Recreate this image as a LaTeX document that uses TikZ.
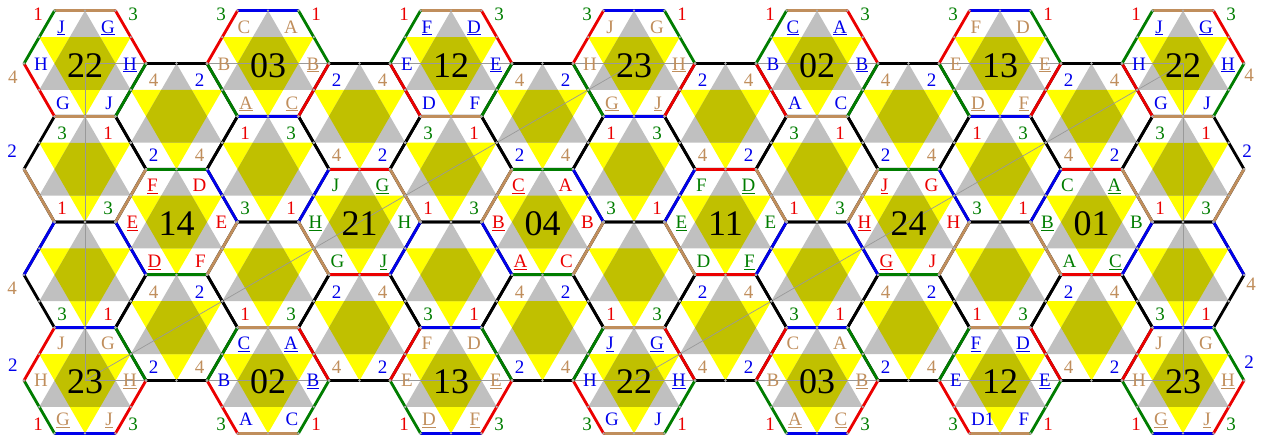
\documentclass[tikz,border=0pt]{standalone}
\usepackage{fontspec}
\setmainfont{Liberation Serif}

\definecolor{cred}{RGB}{235,0,0}
\definecolor{cgrn}{RGB}{0,125,0}
\definecolor{cblu}{RGB}{0,0,235}
\definecolor{cbrn}{RGB}{192,142,92}
\definecolor{cyel}{RGB}{255,255,0}
\definecolor{cgry}{RGB}{192,192,192}
\definecolor{colv}{RGB}{192,192,0}

\newcommand{\ulet}[1]{\underline{#1}}
% 六角星
\newcommand{\hexstar}{%
	\fill[cyel] (90:52.83) -- (210:52.83) -- (330:52.83) -- cycle;
	\fill[cgry] (270:52.83) -- (30:52.83) -- (150:52.83) -- cycle;
	\fill[colv] (0:30.5) -- (60:30.5) -- (120:30.5) -- (180:30.5) -- (240:30.5) -- (300:30.5) -- cycle;}
% 编号六边形: 列/行/上下边色/右上边色/右下边色/编号/字母色/六个字母
\newcommand{\labhexes}{%
	0/0/cbrn/cred/cgrn/22/cblu/\ulet{J}/\ulet{G}/H/\ulet{H}/G/J,%
	2/0/cblu/cgrn/cred/03/cbrn/C/A/B/\ulet{B}/\ulet{A}/\ulet{C},%
	4/0/cbrn/cred/cgrn/12/cblu/\ulet{F}/\ulet{D}/E/\ulet{E}/D/F,%
	6/0/cblu/cgrn/cred/23/cbrn/J/G/H/\ulet{H}/\ulet{G}/\ulet{J},%
	8/0/cbrn/cred/cgrn/02/cblu/\ulet{C}/\ulet{A}/B/\ulet{B}/A/C,%
	10/0/cblu/cgrn/cred/13/cbrn/F/D/E/\ulet{E}/\ulet{D}/\ulet{F},%
	12/0/cbrn/cred/cgrn/22/cblu/\ulet{J}/\ulet{G}/H/\ulet{H}/G/J,%
	1/3/cgrn/cblu/cbrn/14/cred/\ulet{F}/D/\ulet{E}/E/\ulet{D}/F,%
	3/3/cred/cbrn/cblu/21/cgrn/J/\ulet{G}/\ulet{H}/H/G/\ulet{J},%
	5/3/cgrn/cblu/cbrn/04/cred/\ulet{C}/A/\ulet{B}/B/\ulet{A}/C,%
	7/3/cred/cbrn/cblu/11/cgrn/F/\ulet{D}/\ulet{E}/E/D/\ulet{F},%
	9/3/cgrn/cblu/cbrn/24/cred/\ulet{J}/G/\ulet{H}/H/\ulet{G}/J,%
	11/3/cred/cbrn/cblu/01/cgrn/C/\ulet{A}/\ulet{B}/B/A/\ulet{C},%
	0/6/cblu/cgrn/cred/23/cbrn/J/G/H/\ulet{H}/\ulet{G}/\ulet{J},%
	2/6/cbrn/cred/cgrn/02/cblu/\ulet{C}/\ulet{A}/B/\ulet{B}/A/C,%
	4/6/cblu/cgrn/cred/13/cbrn/F/D/E/\ulet{E}/\ulet{D}/\ulet{F},%
	6/6/cbrn/cred/cgrn/22/cblu/\ulet{J}/\ulet{G}/H/\ulet{H}/G/J,%
	8/6/cblu/cgrn/cred/03/cbrn/C/A/B/\ulet{B}/\ulet{A}/\ulet{C},%
	10/6/cbrn/cred/cgrn/12/cblu/\ulet{F}/\ulet{D}/E/\ulet{E}/D\rlap{1}/F,%
	12/6/cblu/cgrn/cred/23/cbrn/J/G/H/\ulet{H}/\ulet{G}/\ulet{J}}

\begin{document}
\begin{tikzpicture}[x=1pt,y=-1pt,
		rim/.style={line width=2.8pt,line cap=round,line join=round},
		gridline/.style={gray!80,line width=0.7pt},
		knot/.style={fill=gray!65},
		bignum/.style={font=\fontsize{36}{40}\selectfont,inner sep=0pt,anchor=base},
		lab/.style={font=\fontsize{19}{22}\selectfont,inner sep=0pt,anchor=base},
		d1/.style={text=cred},d2/.style={text=cblu},d3/.style={text=cgrn},d4/.style={text=cbrn}]
	\useasboundingbox (0,0) rectangle (1261,445);
	
	% 六边形中心
	\foreach \cc in {0,...,12} {
		\foreach \rr in {0,...,6} {
			\coordinate (h-\cc-\rr) at ({85+91.5*\cc},{63.5+52.83*\rr});
		}
	}
	
	% 星形填充
	\foreach \cc in {0,...,12} {
		\foreach \rr in {0,...,6} {
			\ifodd\numexpr\cc+\rr\relax\else
				\begin{scope}[shift={(h-\cc-\rr)}] \hexstar \end{scope}
			\fi
		}
	}
	
	% 细线
	\draw[gridline] (h-0-0) rectangle (h-12-6);
	\draw[gridline] (h-0-6) -- (h-6-0) (h-6-6) -- (h-12-0);
	
	% 无编号六边形的黑边
	\foreach \rr in {1,2,4,5} {
		\foreach \cc in {0,...,12} {
			\ifodd\numexpr\cc+\rr\relax\else
				\draw[rim,shift={(h-\cc-\rr)}] (0:61) -- (60:61) -- (120:61) -- (180:61) -- (240:61) -- (300:61) -- cycle;
			\fi
		}
	}
	\draw[rim,cbrn,shift={(h-0-2)}] (120:61) -- (180:61);
	\draw[rim,cblu,shift={(h-0-4)}] (180:61) -- (240:61);
	\draw[rim,cbrn,shift={(h-12-2)}] (0:61) -- (60:61);
	\draw[rim,cblu,shift={(h-12-4)}] (300:61) -- (0:61);
	
	% 编号六边形的彩色边
	\foreach \cc/\rr/\ct/\ca/\cb/\nm/\lc/\ltl/\ltr/\lft/\rgt/\lbl/\lbr in \labhexes {
		\begin{scope}[shift={(h-\cc-\rr)}]
			\draw[rim,\ct] (240:61) -- (300:61) (60:61) -- (120:61);
			\draw[rim,\ca] (300:61) -- (0:61) (120:61) -- (180:61);
			\draw[rim,\cb] (0:61) -- (60:61) (180:61) -- (240:61);
		\end{scope}
	}
	
	% 顶点与中点
	\foreach \cc in {0,...,12} {
		\foreach \rr in {0,...,6} {
			\ifodd\numexpr\cc+\rr\relax\else
				\foreach \a in {0,60,...,300} {
					\fill[knot,shift={(h-\cc-\rr)}] (\a:61) circle (1.3) (\a+30:52.83) circle (1.3);
				}
			\fi
		}
	}
	
	% 编号与字母
	\foreach \cc/\rr/\ct/\ca/\cb/\nm/\lc/\ltl/\ltr/\lft/\rgt/\lbl/\lbr in \labhexes {
		\begin{scope}[shift={(h-\cc-\rr)}]
			\node[bignum] (n-\cc-\rr) at (0,13.5) {\nm};
			\node[lab,text=\lc] (n-\cc-\rr-tl) at (-24,-30.5) {\ltl};
			\node[lab,text=\lc] (n-\cc-\rr-tr) at (23,-30.5) {\ltr};
			\node[lab,text=\lc] (n-\cc-\rr-l) at (-44,6.5) {\lft};
			\node[lab,text=\lc] (n-\cc-\rr-r) at (45,6.5) {\rgt};
			\node[lab,text=\lc] (n-\cc-\rr-bl) at (-22,45.5) {\lbl};
			\node[lab,text=\lc] (n-\cc-\rr-br) at (24,45.5) {\lbr};
		\end{scope}
	}
	
	% 小数字
	\foreach \cc/\p/\q in {1/4/2,3/2/4,5/4/2,7/2/4,9/4/2,11/2/4} {
		\foreach \rr in {1,5} {
			\begin{scope}[shift={(h-\cc-\rr)}]
				\node[lab,d\p] (m-\cc-\rr-tl) at (-23,-29.5) {\p};
				\node[lab,d\q] (m-\cc-\rr-tr) at (23,-29.5) {\q};
				\node[lab,d\q] (m-\cc-\rr-bl) at (-23,45.5) {\q};
				\node[lab,d\p] (m-\cc-\rr-br) at (23,45.5) {\p};
			\end{scope}
		}
	}
	\foreach \cc/\p/\q in {0/3/1,2/1/3,4/3/1,6/1/3,8/3/1,10/1/3,12/3/1} {
		\begin{scope}[shift={(h-\cc-2)}]
			\node[lab,d\p] (m-\cc-2-tl) at (-23,-29.5) {\p};
			\node[lab,d\q] (m-\cc-2-tr) at (23,-29.5) {\q};
			\node[lab,d\q] (m-\cc-2-bl) at (-23,45.5) {\q};
			\node[lab,d\p] (m-\cc-2-br) at (23,45.5) {\p};
		\end{scope}
		\begin{scope}[shift={(h-\cc-4)}]
			\node[lab,d\p] (m-\cc-4-bl) at (-23,45.5) {\p};
			\node[lab,d\q] (m-\cc-4-br) at (23,45.5) {\q};
		\end{scope}
		\begin{scope}[shift={(h-\cc-0)}]
			\node[lab,d\q] (o-\cc-0-l) at (-47,-43) {\q};
			\node[lab,d\p] (o-\cc-0-r) at (48,-43) {\p};
		\end{scope}
		\begin{scope}[shift={(h-\cc-6)}]
			\node[lab,d\q] (o-\cc-6-l) at (-47,50) {\q};
			\node[lab,d\p] (o-\cc-6-r) at (48,50) {\p};
		\end{scope}
	}
	
	% 两侧的数字
	\node[lab,d4] (s-l1) at (13,83.5) {4};
	\node[lab,d2] (s-l2) at (12,157.5) {2};
	\node[lab,d4] (s-l3) at (12,294.5) {4};
	\node[lab,d2] (s-l4) at (13,371.5) {2};
	\node[lab,d4] (s-r1) at (1249,81.5) {4};
	\node[lab,d2] (s-r2) at (1247,157.5) {2};
	\node[lab,d4] (s-r3) at (1251,290.5) {4};
	\node[lab,d2] (s-r4) at (1249,368.5) {2};
\end{tikzpicture}
\end{document}
